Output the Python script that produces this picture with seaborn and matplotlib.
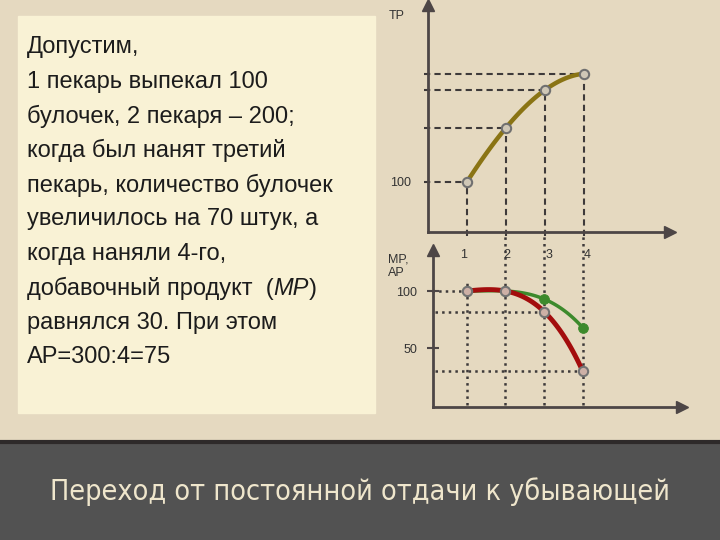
import matplotlib
matplotlib.use("Agg")
import matplotlib.pyplot as plt
import seaborn as sns
from matplotlib.patches import Rectangle

# number of bakers and the products
workers = [1, 2, 3, 4]
tp = [100, 200, 270, 300]
ap = [100, 100, 93, 68]
mp = [100, 100, 82, 30]
worker_labels = ["1", "2", "3", "4"]

body_lines = [
    "Допустим,",
    "1 пекарь выпекал 100",
    "булочек, 2 пекаря – 200;",
    "когда был нанят третий",
    "пекарь, количество булочек",
    "увеличилось на 70 штук, а",
    "когда наняли 4-го,",
    "добавочный продукт  (MP)",
    "равнялся 30. При этом",
    "AP=300:4=75",
]
footer = "Переход от постоянной отдачи к убывающей"

BG = "#e5d9c0"
BOX = "#f9f2d5"
FOOT = "#525252"
AXC = "#4d4646"
GUIDE = "#3e3a3a"
OLIVE = "#8a7414"
RED = "#a30d0d"
GREEN = "#3d8a2c"
TXT = "#1c1c1c"

sns.set_theme(style="white")
plt.rcParams["font.family"] = ["Liberation Sans", "DejaVu Sans"]

fig = plt.figure(figsize=(7.2, 5.4), dpi=100, facecolor=BG)

# slide background in pixel coordinates
bg = fig.add_axes([0, 0, 1, 1], zorder=0)
bg.set_xlim(0, 720)
bg.set_ylim(540, 0)
bg.axis("off")
bg.add_patch(Rectangle((18, 16), 357, 397, color=BOX))
bg.add_patch(Rectangle((0, 443), 720, 97, color=FOOT))
bg.plot([0, 720], [442, 442], color="#2e2a2a", lw=3)

for i, line in enumerate(body_lines):
    y = 47.5 + i * 34.4
    if "(MP)" in line:
        head = line.split("(MP)")[0] + "("
        t1 = bg.text(27, y, head, fontsize=17, color=TXT, va="center")
        t2 = bg.annotate("MP", xy=(1, 0), xycoords=t1, va="bottom", fontsize=17,
                         style="italic", color=TXT)
        bg.annotate(")", xy=(1, 0), xycoords=t2, va="bottom", fontsize=17, color=TXT)
    else:
        bg.text(27, y, line, fontsize=17, color=TXT, va="center")

bg.text(360, 492, footer, ha="center", va="center", fontsize=20.6, color="#efe6cc",
        family="DejaVu Sans", fontstretch="condensed")


def style_axes(ax):
    ax.patch.set_alpha(0)
    sns.despine(ax=ax)
    for side in ("left", "bottom"):
        ax.spines[side].set_color(AXC)
        ax.spines[side].set_linewidth(2)
    ax.plot(0, 1, "^", transform=ax.transAxes, clip_on=False, ms=8, color=AXC)
    ax.plot(1, 0, ">", transform=ax.transAxes, clip_on=False, ms=8, color=AXC)
    ax.set_xticks([])


# total product
ax1 = fig.add_axes([428 / 720, 1 - 232 / 540, 242 / 720, 227 / 540], zorder=2)
ax1.vlines(workers, 0, tp, colors=GUIDE, linestyles=(0, (3, 2)), lw=1.5, clip_on=False)
ax1.hlines(tp, -0.1, workers, colors=GUIDE, linestyles=(0, (3, 2)), lw=1.5, clip_on=False)
sns.regplot(x=workers, y=tp, order=3, ci=None, scatter=False, ax=ax1,
            line_kws=dict(color=OLIVE, lw=3.2))
sns.scatterplot(x=workers, y=tp, ax=ax1, s=45, color="#cfc7b6", edgecolor="#707070",
                linewidth=1.5, zorder=5)
ax1.set_xlim(0, 6.2)
ax1.set_ylim(7, 427)
style_axes(ax1)
ax1.set_yticks([100])
ax1.set_yticklabels(["100"])
ax1.tick_params(axis="y", length=0, pad=12, labelsize=9, labelcolor="#333333")
ax1.text(-0.13, 0.95, "TP", transform=ax1.transAxes, fontsize=9, color="#333333",
         ha="center", va="center")

# marginal and average product
ax2 = fig.add_axes([433 / 720, 1 - 407 / 540, 249 / 720, 157 / 540], zorder=2)
ax2.vlines(workers[:1], 0, 110, colors=GUIDE, linestyles=":", lw=1.8, clip_on=False)
ax2.vlines(workers[1:], 0, 150, colors=GUIDE, linestyles=":", lw=1.8, clip_on=False)
ax2.hlines([ap[0], mp[2], mp[3]], [0.1, 0.17, 0.17], [1, 3, 4], colors=GUIDE,
           linestyles=":", lw=1.8, clip_on=False)
sns.regplot(x=workers, y=ap, order=3, ci=None, scatter=False, ax=ax2,
            line_kws=dict(color=GREEN, lw=2.5))
sns.regplot(x=workers, y=mp, order=3, ci=None, scatter=False, ax=ax2,
            line_kws=dict(color=RED, lw=3.5))
sns.scatterplot(x=workers, y=ap, ax=ax2, s=50, color=GREEN, edgecolor=GREEN, zorder=5)
sns.scatterplot(x=workers, y=mp, ax=ax2, s=45, color="#cdb0a6", edgecolor="#737373",
                linewidth=1.5, zorder=6)
ax2.set_xlim(0.12, 6.58)
ax2.set_ylim(-1.75, 136)
style_axes(ax2)
ax2.set_yticks([50, 100])
ax2.set_yticklabels(["50", "100"])
ax2.tick_params(axis="y", direction="inout", length=9, width=1.5, color=AXC, pad=7,
                labelsize=9, labelcolor="#333333", left=True)
label_shift = [-0.1, 0.03, 0.12, 0.13]
for x, lab, dx in zip(workers, worker_labels, label_shift):
    ax2.text(x + dx, 132, lab, fontsize=9, color="#333333", ha="center", va="center")
ax2.text(-0.18, 0.98, "MP,\nAP", transform=ax2.transAxes, fontsize=9, color="#333333",
         ha="left", va="top", linespacing=1.25)

fig.savefig("out.png", dpi=100, facecolor=BG)
